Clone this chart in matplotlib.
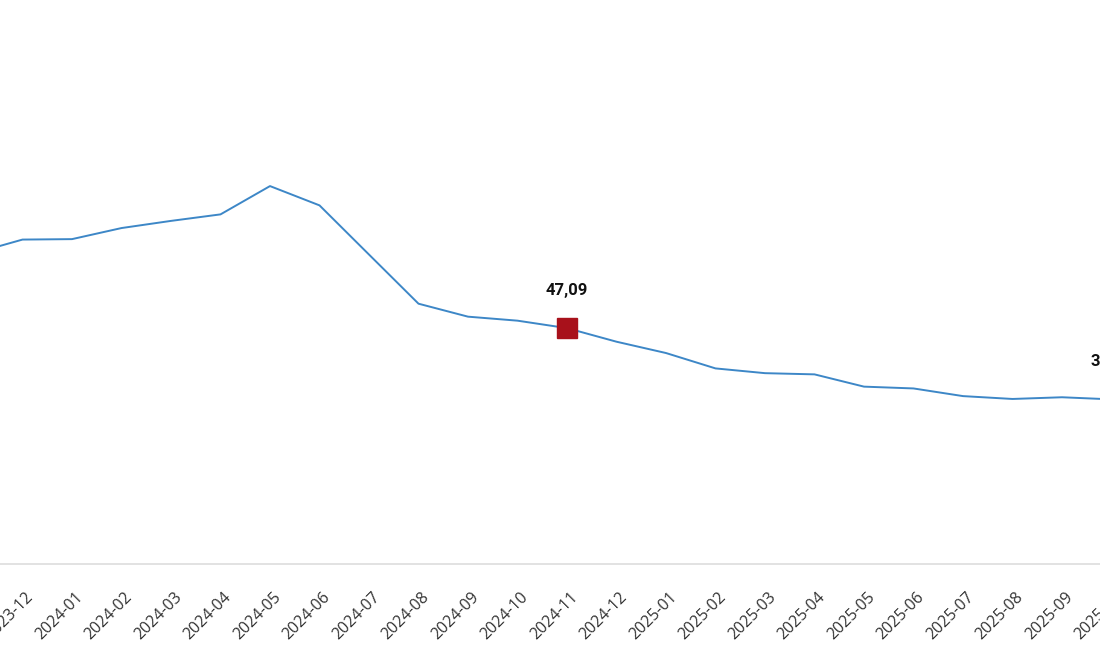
import matplotlib
matplotlib.use('Agg')
import matplotlib.pyplot as plt
import matplotlib.transforms as mtransforms

months = ['2023-11', '2023-12', '2024-01', '2024-02', '2024-03', '2024-04',
          '2024-05', '2024-06', '2024-07', '2024-08', '2024-09', '2024-10',
          '2024-11', '2024-12', '2025-01', '2025-02', '2025-03', '2025-04',
          '2025-05', '2025-06', '2025-07', '2025-08', '2025-09', '2025-10']
inflation = [61.98, 64.77, 64.86, 67.07, 68.50, 69.80, 75.45, 71.60, 61.78,
             51.97, 49.38, 48.58, 47.09, 44.38, 42.12, 39.05, 38.10, 37.86,
             35.41, 35.05, 33.52, 32.95, 33.29, 32.87]
highlight = ['2024-11', '2025-10']

x = list(range(len(months)))

# the picture is a crop of a wider chart: axes run past both figure edges
fig = plt.figure(figsize=(11, 6.5), dpi=100)
ax = fig.add_axes([-50 / 1100, 0.1323, 1200 / 1100, 0.8677])
ax.plot(x, inflation, color='#3d87c7', linewidth=1.4, zorder=2)

for m in highlight:
    i = months.index(m)
    ax.plot(i, inflation[i], marker='s', markersize=14, color='#a8111b',
            markeredgecolor='#a8111b', linestyle='none', zorder=3)
    ax.annotate(f'{inflation[i]:.2f}'.replace('.', ','), (i, inflation[i]),
                xytext=(0, 27), textcoords='offset points', ha='center',
                va='center', fontsize=12, fontweight='bold', family='Roboto',
                color='#111111', annotation_clip=False)

ax.set_xticks(x)
ax.set_xticklabels(months, rotation=45, ha='right', rotation_mode='anchor',
                   fontsize=11.5, family='Open Sans', color='#333333')
ax.tick_params(axis='x', length=0, pad=18)
shift = mtransforms.ScaledTranslation(3 / 100, 0, fig.dpi_scale_trans)
for lab in ax.get_xticklabels():
    lab.set_transform(lab.get_transform() + shift)
ax.set_yticks([])
ax.set_xlim(1 + (-50 - 22.5) / 49.5, 1 + (1150 - 22.5) / 49.5)
ax.set_ylim(0, 112.6)
for s in ['top', 'left', 'right']:
    ax.spines[s].set_visible(False)
ax.spines['bottom'].set_color('#dddddd')
ax.spines['bottom'].set_linewidth(1.2)

fig.savefig('out.png', dpi=100)
